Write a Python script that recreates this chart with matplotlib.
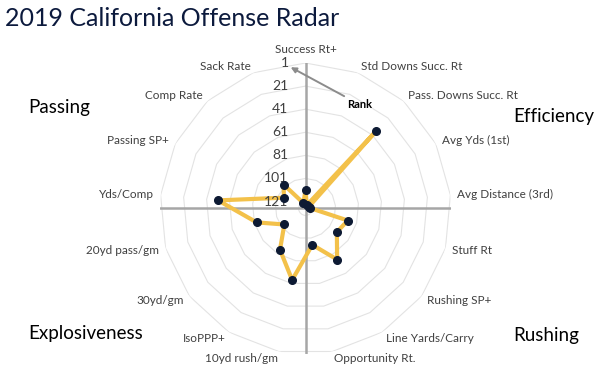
import matplotlib
matplotlib.use("Agg")
import matplotlib.pyplot as plt
import numpy as np

plt.rcParams['font.family'] = ['Lato', 'DejaVu Sans']

# categories clockwise from the top
categories = ['Success Rt+', 'Std Downs Succ. Rt', 'Pass. Downs Succ. Rt',
              'Avg Yds (1st)', 'Avg Distance (3rd)', 'Stuff Rt', 'Rushing SP+',
              'Line Yards/Carry', 'Opportunity Rt.', '10yd rush/gm', 'IsoPPP+',
              '30yd/gm', '20yd pass/gm', 'Yds/Comp', 'Passing SP+', 'Comp Rate',
              'Sack Rate']
ranks = [111, 124, 36, 124, 123, 89, 93, 75, 95, 64, 85, 104, 83, 51, 106, 99, 122]
rank_ticks = [1, 21, 41, 61, 81, 101, 121]
sections = ['Passing', 'Efficiency', 'Explosiveness', 'Rushing']

CENTER_RANK = 127  # rank at the middle of the radar

n = len(categories)
theta = np.arange(n) * 2 * np.pi / n
r = CENTER_RANK - np.array(ranks)

fig = plt.figure(figsize=(6, 3.76), dpi=100)
ax = fig.add_axes([0.2667, 0.0585, 0.485, 0.774], projection='polar')
ax.set_theta_zero_location('N')
ax.set_theta_direction(-1)
ax.set_ylim(0, CENTER_RANK - 1)
ax.grid(False)
ax.spines['polar'].set_visible(False)
ax.set_xticks([])
ax.set_yticks([])
ax.patch.set_alpha(0)

# polygon gridlines
th_closed = np.append(theta, theta[0])
for t in rank_ticks:
    ax.plot(th_closed, np.full(n + 1, CENTER_RANK - t), color='#e3e3e3', lw=0.8, zorder=1)

# crosshair
rmax = CENTER_RANK - 1
for a in [0, np.pi / 2, np.pi, 3 * np.pi / 2]:
    ax.plot([a, a], [0, rmax], color='#a6a6a6', lw=1.8, zorder=2)

# data
ax.plot(np.append(theta, theta[0]), np.append(r, r[0]), color='#f3c14a', lw=3,
        zorder=3, solid_joinstyle='round')
ax.plot(theta, r, 'o', color='#0d1a33', ms=5.5, zorder=4)

# category labels
for a, lab in zip(theta, categories):
    s = np.sin(a)
    if abs(s) < 0.05:
        ax.text(a, 138, lab, ha='center', va='center', fontsize=8.5, color='#404040')
    else:
        ax.text(a, 132, lab, ha='left' if s > 0 else 'right', va='center',
                fontsize=8.5, color='#404040')

# rank tick labels
for t in rank_ticks:
    ax.annotate(str(t), xy=(0, CENTER_RANK - t), xytext=(-17, 0),
                textcoords='offset pixels', ha='right', va='center',
                fontsize=10, color='#404040')

ax.annotate('Rank', xy=(np.radians(-6), 123), xytext=(np.radians(21.7), 97),
            ha='left', va='center', fontsize=8, fontweight='bold',
            arrowprops=dict(arrowstyle='-|>', color='#8c8c8c', lw=1.4,
                            mutation_scale=8, shrinkA=0, shrinkB=0))

# section labels
fig.text(0.047, 0.713, sections[0], fontsize=13.5, ha='left', va='center')
fig.text(0.855, 0.689, sections[1], fontsize=13.5, ha='left', va='center')
fig.text(0.047, 0.112, sections[2], fontsize=13.5, ha='left', va='center')
fig.text(0.855, 0.109, sections[3], fontsize=13.5, ha='left', va='center')

fig.text(0.008, 0.95, '2019 California Offense Radar', fontsize=18,
         color='#0c1a3d', ha='left', va='center')

fig.savefig('out.png', dpi=100)
